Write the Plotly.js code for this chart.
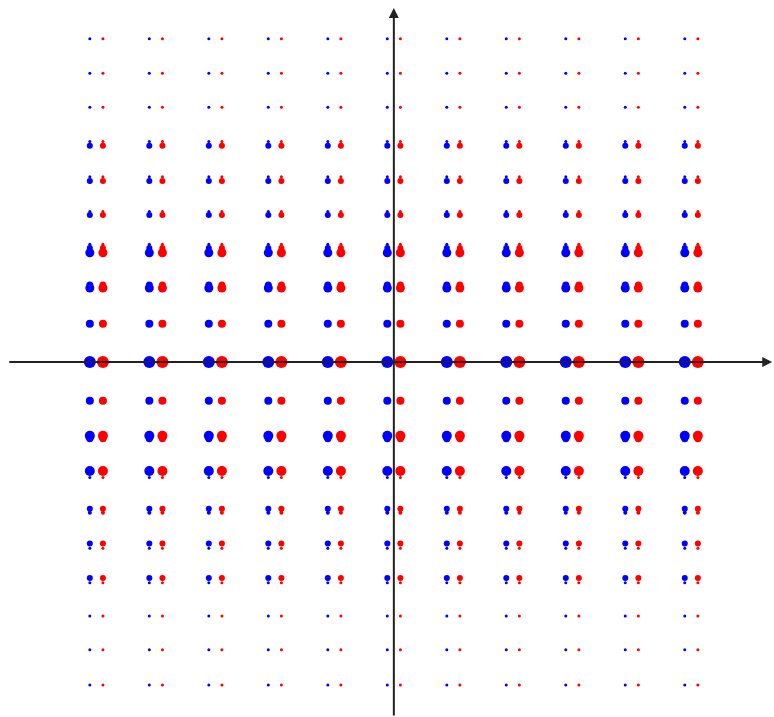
<!DOCTYPE html>
<html>
<head>
<meta charset="utf-8">
<script src="https://cdn.plot.ly/plotly-3.0.1.min.js"></script>
<style>body{margin:0;background:#fff}</style>
</head>
<body>
<div id="plot" style="width:774px;height:717px"></div>
<script>
// grid columns and rows
var cols = [-5, -4, -3, -2, -1, 0, 1, 2, 3, 4, 5];
var rows = [9.0, 8.04, 7.09, 6.02, 5.04, 4.09, 3.04, 2.06, 1.06, 0, -1.08, -2.06, -3.04, -4.09, -5.06, -6.02, -7.08, -8.02, -9.0];
// main dot size per row
var mainSize = [3, 3, 3, 6, 6, 6, 9, 9, 8, 12, 8, 10, 10, 6, 6, 6, 3, 3, 3];
// small stacked dots: row, shift, size
var extraRow = [6.02, 5.04, 4.09, 3.04, 3.04, 2.06, -2.06, -3.04, -4.09, -5.06, -6.02];
var extraShift = [0.12, 0.12, 0.1, 0.13, 0.24, 0.08, -0.08, -0.18, -0.11, -0.13, -0.13];
var extraSize = [3, 3, 3, 6, 3, 7, 7, 3, 4, 3, 3];

var pairGap = 0.11;

function grid(rowList, sizeList, shiftList, dx) {
    var x = [], y = [], s = [];
    rowList.forEach(function(r, i) {
        cols.forEach(function(c) {
            x.push(c + dx);
            y.push(r + (shiftList ? shiftList[i] : 0));
            s.push(sizeList[i]);
        });
    });
    return {x: x, y: y, s: s};
}

var data = [];
[["#0000ff", -pairGap], ["#ff0000", pairGap]].forEach(function(side) {
    var m = grid(rows, mainSize, null, side[1]);
    var e = grid(extraRow, extraSize, extraShift, side[1]);
    data.push({x: m.x, y: m.y, mode: "markers", type: "scatter",
        marker: {color: side[0], size: m.s, opacity: 1, line: {width: 0}}});
    data.push({x: e.x, y: e.y, mode: "markers", type: "scatter",
        marker: {color: side[0], size: e.s, opacity: 1, line: {width: 0}}});
});

var layout = {
    width: 774,
    height: 717,
    margin: {l: 0, r: 0, t: 0, b: 0},
    paper_bgcolor: "#fff",
    plot_bgcolor: "#fff",
    showlegend: false,
    hovermode: false,
    xaxis: {range: [-6.62, 6.39], visible: false},
    yaxis: {range: [-9.89, 10.08], visible: false},
    annotations: [
        {x: 6.36, y: 0, ax: -6.49, ay: 0, xref: "x", yref: "y", axref: "x", ayref: "y",
         text: "", showarrow: true, arrowhead: 2, arrowsize: 1, arrowwidth: 2, arrowcolor: "#222"},
        {x: 0, y: 9.86, ax: 0, ay: -9.89, xref: "x", yref: "y", axref: "x", ayref: "y",
         text: "", showarrow: true, arrowhead: 2, arrowsize: 1, arrowwidth: 2, arrowcolor: "#222"}
    ]
};

Plotly.newPlot("plot", data, layout, {displayModeBar: false, staticPlot: true});
</script>
</body>
</html>
